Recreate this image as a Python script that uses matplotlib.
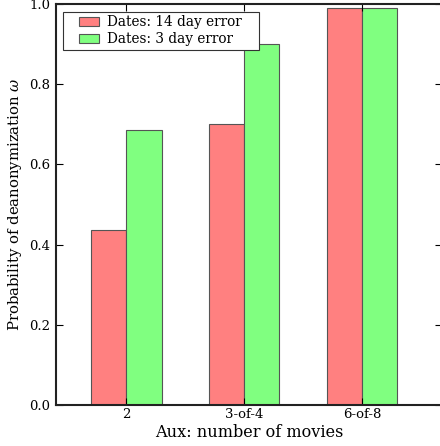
import matplotlib
matplotlib.use("Agg")
import matplotlib.pyplot as plt
import matplotlib.patches as mpatches
import numpy as np

# data
categories = ["2", "3-of-4", "6-of-8"]
err14 = [0.436, 0.70, 0.99]
err3 = [0.686, 0.90, 0.99]
labels = ["Dates: 14 day error", "Dates: 3 day error"]

plt.rcParams['font.family'] = ['DejaVu Serif']
plt.rcParams['mathtext.fontset'] = 'dejavuserif'

fig = plt.figure(figsize=(4.4, 4.46), dpi=100)
ax = fig.add_axes([56/440, 41/446, 386/440, 401/446])

x = np.arange(len(categories))
w = 0.3
ax.bar(x - w/2, err14, w, color='#ff8080', edgecolor='#555555', linewidth=0.8, label=labels[0])
ax.bar(x + w/2, err3, w, color='#80ff80', edgecolor='#555555', linewidth=0.8, label=labels[1])

ax.set_xlim(-0.596, 2.68)
ax.set_ylim(0, 1.0)
ax.set_xticks(x)
ax.set_xticklabels(categories)
ax.set_yticks([0.0, 0.2, 0.4, 0.6, 0.8, 1.0])
ax.tick_params(direction='in', top=True, right=True, length=5, labelsize=9.5, pad=4)
ax.tick_params(axis='x', pad=2)
for s in ax.spines.values():
    s.set_linewidth(1.5)
    s.set_color('#222222')

ax.set_xlabel("Aux: number of movies", fontsize=11.6, labelpad=2)
ax.set_ylabel(r"Probability of deanonymization $\omega$", fontsize=10.7)

# legend without frame, then a wider box drawn around it (old-style padding)
leg = ax.legend(loc='upper left', bbox_to_anchor=(0.052, 0.98), fontsize=9.8,
                frameon=False, borderaxespad=0, handlelength=1.45, handleheight=0.6,
                handletextpad=0.6, labelspacing=0.22, borderpad=0.25)
fig.canvas.draw()
bb = leg.get_window_extent().transformed(fig.transFigure.inverted())
padx = 13 / 440
box = mpatches.Rectangle((bb.x0 - padx, bb.y0), bb.width + 2 * padx, bb.height,
                         transform=fig.transFigure, facecolor='white',
                         edgecolor='#333333', linewidth=0.8, zorder=4.9)
ax.add_artist(box)

fig.savefig("out.png", dpi=100)
